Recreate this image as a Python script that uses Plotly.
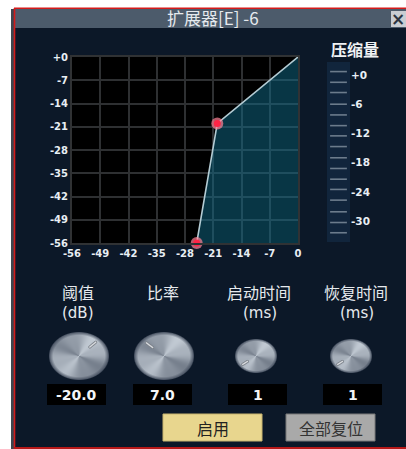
import base64
import struct
import zlib

import numpy as np
import plotly.graph_objects as go

# ---------------- data ----------------
axis_ticks = [-56, -49, -42, -35, -28, -21, -14, -7, 0]
x_tick_text = ["-56", "-49", "-42", "-35", "-28", "-21", "-14", "-7", "0"]
y_tick_text = ["-56", "-49", "-42", "-35", "-28", "-21", "-14", "-7", "+0"]

curve_in = [-25.1, -20.0, 0.0]      # input level (dB)
curve_out = [-56.0, -20.0, 0.0]     # output level (dB)
node_in = [-25.1, -20.0]
node_out = [-56.0, -20.0]
floor_in = [-25.1, 0.0]
floor_out = [-56.0, -56.0]

meter_label_vals = [0, -6, -12, -18, -24, -30]
meter_label_text = ["+0", "-6", "-12", "-18", "-24", "-30"]
meter_tick_vals = [0.7, -1.5, -3.6, -6.0, -8.2, -10.4, -12.5, -14.7,
                   -17.0, -19.2, -21.4, -23.5, -25.7, -28.1, -30.3, -32.4]

knob_labels = ["阈值", "比率", "启动时间", "恢复时间"]
knob_units = ["(dB)", "", "(ms)", "(ms)"]
knob_values = ["-20.0", "7.0", "1", "1"]

title_text = "扩展器[E] -6"
meter_title = "压缩量"
button_texts = ["启用", "全部复位"]

# ---------------- helpers ----------------
W, H = 406, 449


def fx(x):
    return x / W


def fy(y):
    return 1 - y / H


def png_uri(rgba):
    h, w, _ = rgba.shape
    raw = b"".join(b"\x00" + rgba[i].tobytes() for i in range(h))

    def chunk(t, d):
        return struct.pack(">I", len(d)) + t + d + struct.pack(">I", zlib.crc32(t + d) & 0xFFFFFFFF)

    data = (b"\x89PNG\r\n\x1a\n"
            + chunk(b"IHDR", struct.pack(">IIBBBBB", w, h, 8, 6, 0, 0, 0))
            + chunk(b"IDAT", zlib.compress(raw, 9))
            + chunk(b"IEND", b""))
    return "data:image/png;base64," + base64.b64encode(data).decode()


def knob_image(w, h, ind_deg):
    ys, xs = np.mgrid[0:h, 0:w].astype(float) + 0.5
    cx, cy = w / 2, h / 2
    u = (xs - cx) / (w / 2)
    v = (ys - cy) / (h / 2)
    r = np.hypot(u, v)
    th = np.arctan2(-v, u)
    shade = 0.58 + 0.17 * np.cos(2 * (th - np.pi / 4)) + 0.05 * np.cos(6 * th) + 0.06 * (-v)
    shade = np.clip(shade, 0, 1)
    dark = np.array([62, 72, 88], float)
    light = np.array([222, 230, 238], float)
    col = dark + shade[..., None] * (light - dark)
    rim = np.clip((r - 0.86) / 0.14, 0, 1)[..., None]
    rimcol = np.array([70, 80, 96], float)
    col = col * (1 - rim) + rimcol * rim
    # indicator
    a = np.deg2rad(ind_deg)
    p1 = np.array([cx + 0.52 * (w / 2) * np.cos(a), cy - 0.52 * (h / 2) * np.sin(a)])
    p2 = np.array([cx + 0.80 * (w / 2) * np.cos(a), cy - 0.80 * (h / 2) * np.sin(a)])
    d = p2 - p1
    t = np.clip(((xs - p1[0]) * d[0] + (ys - p1[1]) * d[1]) / (d @ d), 0, 1)
    dist = np.hypot(xs - (p1[0] + t * d[0]), ys - (p1[1] + t * d[1]))
    m = np.clip(2.0 - dist, 0, 1)[..., None]
    indcol = np.array([120, 126, 134], float)
    col = col * (1 - m) + indcol * m
    m2 = np.clip(1.2 - dist, 0, 1)[..., None]
    col = col * (1 - m2) + np.array([215, 218, 222], float) * m2
    alpha = np.clip((1 - r) * min(w, h) / 2 + 0.5, 0, 1)
    rgba = np.dstack([np.clip(col, 0, 255), alpha * 255]).astype(np.uint8)
    return png_uri(rgba)


# ---------------- figure ----------------
fig = go.Figure()

fig.add_trace(go.Scatter(x=floor_in, y=floor_out, mode="lines",
                         line=dict(width=0, color="rgba(0,0,0,0)"),
                         hoverinfo="skip", showlegend=False))
fig.add_trace(go.Scatter(x=curve_in, y=curve_out, mode="lines", fill="tonexty",
                         fillcolor="rgba(16,108,138,0.5)",
                         line=dict(color="#b4ccd4", width=1.6),
                         showlegend=False, cliponaxis=False))
fig.add_trace(go.Scatter(x=node_in, y=node_out, mode="markers",
                         marker=dict(size=12, color="rgba(255,130,150,0.7)", line=dict(width=0)),
                         showlegend=False, cliponaxis=False))
fig.add_trace(go.Scatter(x=node_in, y=node_out, mode="markers",
                         marker=dict(size=7, color="#ff2446", line=dict(width=0)),
                         showlegend=False, cliponaxis=False))

# meter ticks
fig.add_trace(go.Scatter(x=[0.5] * len(meter_tick_vals), y=meter_tick_vals, mode="markers",
                         marker=dict(symbol="line-ew", size=12,
                                     line=dict(color="#6c7c8c", width=1.6)),
                         xaxis="x2", yaxis="y2", showlegend=False, hoverinfo="skip"))

tickfont = dict(family="DejaVu Sans", size=10, color="#e8eef4", weight="bold")

fig.update_layout(
    template="none",
    width=W, height=H, autosize=False,
    margin=dict(l=0, r=0, t=0, b=0, pad=0, autoexpand=False),
    showlegend=False,
    paper_bgcolor="white", plot_bgcolor="rgba(0,0,0,0)",
    xaxis=dict(domain=[fx(72), fx(298)], range=[-56, 0], tickvals=axis_ticks,
               ticktext=x_tick_text, showgrid=True, gridcolor="#2e3032", gridwidth=1.6,
               zeroline=False, showline=True, mirror=True, linecolor="#303234", linewidth=2,
               tickfont=tickfont, ticks="", fixedrange=True, automargin=False),
    yaxis=dict(domain=[fy(243), fy(57)], range=[-56, 0], tickvals=axis_ticks,
               ticktext=y_tick_text, showgrid=True, gridcolor="#2e3032", gridwidth=1.6,
               zeroline=False, showline=True, mirror=True, linecolor="#303234", linewidth=2,
               tickfont=tickfont, ticks="", fixedrange=True, automargin=False),
    xaxis2=dict(domain=[fx(327), fx(350)], range=[0, 1], visible=False, anchor="y2",
                automargin=False, fixedrange=True),
    yaxis2=dict(domain=[fy(242), fy(62)], range=[-34.3, 2.67], anchor="x2", side="right",
                tickvals=meter_label_vals, ticktext=meter_label_text, showgrid=False,
                zeroline=False, showline=False, ticks="", automargin=False, fixedrange=True,
                tickfont=dict(family="DejaVu Sans", size=10.5, color="#e8eef4", weight="bold")),
)

shapes = []


def rect(x0, y0, x1, y1, fill, line_color=None, lw=0, layer="below"):
    shapes.append(dict(type="rect", xref="paper", yref="paper",
                       x0=fx(x0), x1=fx(x1), y0=fy(y1), y1=fy(y0),
                       fillcolor=fill, line=dict(color=line_color or fill, width=lw),
                       layer=layer))


# window
rect(11, 9, 15, 449, "#3e454e")
rect(14, 8, 407, 449, "#0c1828")
rect(15, 9, 407, 28, "#4c5b6b")
shapes.append(dict(type="line", xref="paper", yref="paper", x0=fx(14.5), x1=fx(14.5),
                   y0=fy(449), y1=fy(8), line=dict(color="#d41a1a", width=1.6), layer="above"))
shapes.append(dict(type="line", xref="paper", yref="paper", x0=fx(14), x1=fx(407),
                   y0=fy(8.3), y1=fy(8.3), line=dict(color="#d41a1a", width=1.6), layer="above"))
shapes.append(dict(type="line", xref="paper", yref="paper", x0=fx(14), x1=fx(407),
                   y0=fy(448), y1=fy(448), line=dict(color="#b81818", width=2), layer="above"))
# close button
rect(391, 11, 407, 27, "#c9cdd2")
# plot background
rect(72, 57, 298, 243, "#000000")
# meter bar
rect(327, 62, 350, 242, "#11253c")
# value boxes
for x0 in [47, 133, 228, 323]:
    rect(x0, 384, x0 + 59, 405, "#000000")
# buttons
rect(163, 414, 262, 441, "#e8d68e", "#c8b46e", 1)
rect(286, 414, 375, 441, "#a9a9a9", "#787878", 1)

fig.update_layout(shapes=shapes)

ann = []


def text(x, y, s, size, color="#e4e8ee", family="Noto Sans CJK SC", weight="normal", xanchor="center"):
    ann.append(dict(x=fx(x), y=fy(y), xref="paper", yref="paper", text=s, showarrow=False,
                    xanchor=xanchor, yanchor="middle",
                    font=dict(family=family, size=size, color=color, weight=weight)))


text(213, 18, title_text, 17, color="#e6eaee")
text(398, 19, "×", 17, color="#2c3440", family="DejaVu Sans", weight="bold")
text(355, 49, meter_title, 16, color="#f0f2f4", weight="bold")

label_x = [78, 163, 259, 356]
for i, lab in enumerate(knob_labels):
    text(label_x[i], 292, lab, 16, color="#e6eaee")
    if knob_units[i]:
        text(label_x[i] + (0 if i == 0 else 1), 313, knob_units[i], 15, color="#e6eaee",
             family="DejaVu Sans")

value_x = [76.5, 162.5, 257.5, 352.5]
for i, val in enumerate(knob_values):
    text(value_x[i], 395, val, 14, color="#f4f6f8", family="DejaVu Sans", weight="bold")

text(212.5, 428, button_texts[0], 16, color="#222222")
text(330.5, 428, button_texts[1], 16, color="#333333")

fig.update_layout(annotations=ann)

# knobs
knob_geom = [(79, 356, 60, 48, 46), (164, 356, 60, 48, 137),
             (256, 356, 42, 34, 218), (351, 356, 42, 34, 218)]
images = []
for cx, cy, w, h, ang in knob_geom:
    images.append(dict(source=knob_image(w, h, ang), xref="paper", yref="paper",
                       x=fx(cx - w / 2), y=fy(cy - h / 2), sizex=w / W, sizey=h / H,
                       xanchor="left", yanchor="top", sizing="stretch", layer="above"))
fig.update_layout(images=images)

fig.write_html(
    "out.html",
    config={"displayModeBar": False},
    post_script="document.body.style.margin='0';document.body.style.overflow='hidden';",
)
